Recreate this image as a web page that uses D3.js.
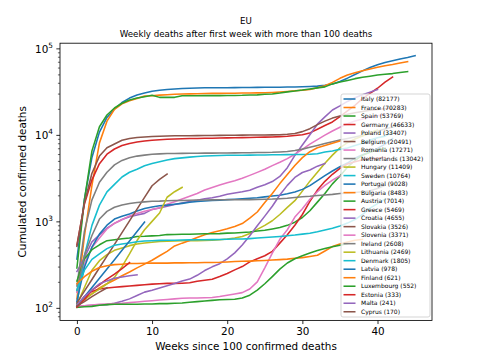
<!DOCTYPE html>
<html><head><meta charset="utf-8">
<script src="https://cdn.jsdelivr.net/npm/d3@7"></script>
<style>body{margin:0;background:#fff}svg{display:block}text{font-family:"DejaVu Sans",sans-serif;fill:#000}</style>
</head><body><svg id="c" width="480" height="360"></svg>
<script>
const countries = ["Italy","France","Spain","Germany","Poland","Belgium","Romania","Netherlands","Hungary","Sweden","Portugal","Bulgaria","Austria","Greece","Croatia","Slovakia","Slovenia","Ireland","Lithuania","Denmark","Latvia","Finland","Luxembourg","Estonia","Malta","Cyprus"];
const totals = [82177,70283,53769,46633,33407,20491,17271,13042,11409,10764,9028,8483,7014,5469,4655,3526,3371,2608,2469,1805,978,621,552,333,241,170];
const italy = [366,1809,5476,10779,15887,19899,23660,26644,28884,30560,31908,32785,33415,33899,34345,34634,34744,34967,35042,35097,35132,35166,35205,35234,35400,35445,35518,35587,35692,35801,35986,36246,36616,37479,38826,41394,45229,49823,54904,60078,64520,68799,71925,75332,78394,82177];
const france = [127,674,2606,8078,14393,19718,22856,24760,26380,28108,28367,28802,29145,29407,29639,29778,29893,30004,30155,30194,30265,30324,30406,30513,30602,30701,30910,31249,31700,32299,32825,33477,35018,37019,40439,45054,49232,52127,55155,57671,60549,63109,65037,67750,70283];
const spain = [289,1772,6528,12418,16972,20453,23190,25264,26621,27650,28752,27127,27136,27136,28322,28346,28385,28403,28420,28434,28445,28576,28646,28872,29011,29418,29747,30495,31411,32086,32929,33992,34910,35878,38833,40769,42619,44668,46252,47624,49260,50122,51078,52683,53769];
const germany = [533,1584,3022,4642,5976,6866,7549,7962,8247,8500,8685,8800,8882,8968,9020,9071,9090,9118,9148,9197,9232,9269,9298,9325,9368,9409,9457,9546,9634,9836,10056,10530,11597,12814,14112,16248,18919,21975,26275,30126,34574,40686,46633];
const poland = [263,380,579,698,833,948,1051,1128,1183,1237,1375,1430,1492,1571,1633,1700,1751,1829,1877,1956,2055,2126,2194,2291,2479,2650,2883,3308,4172,5783,7636,10045,13288,16147,19359,21630,24345,26812,29119,31189,33407];
const belgium = [513,1632,3600,5683,7094,7844,8656,9080,9312,9467,9595,9661,9713,9747,9771,9787,9805,9822,9845,9870,9895,9909,9923,9944,9961,9980,10002,10040,10158,10392,10899,11786,13137,14421,15618,16485,17286,17982,18599,19234,19700,20076,20491];
const romania = [151,328,498,641,816,952,1046,1156,1229,1305,1369,1437,1579,1687,1817,1952,2101,2304,2465,2634,2793,2954,3150,3402,3683,4004,4409,4824,5317,5973,6812,7827,8810,9920,11091,12254,13433,14450,15300,15976,16670,17271];
const netherlands = [179,772,1771,2833,3697,4491,5062,5440,5680,5830,5962,6031,6074,6094,6113,6132,6135,6149,6153,6162,6175,6193,6210,6226,6238,6255,6280,6336,6419,6591,6842,7177,7537,7926,8309,8700,9102,9469,9864,10365,11012,11661,12326,13042];
const hungary = [109,172,272,351,413,462,491,524,546,563,572,585,589,595,596,597,598,602,605,613,625,642,669,723,808,900,1017,1200,1449,1733,2237,2917,3706,4701,5831,7072,8111,8942,9690,10590,11409];
const sweden = [110,401,899,1540,2194,2679,3256,3698,3998,4395,4659,4891,5122,5310,5420,5526,5619,5697,5747,5776,5802,5813,5821,5835,5846,5865,5880,5895,5910,5929,5938,5969,6057,6321,6500,6798,7067,7514,8011,8727,9262,9667,10764];
const portugal = [119,295,504,714,903,1063,1144,1218,1316,1410,1465,1517,1540,1576,1614,1660,1697,1722,1740,1756,1784,1799,1822,1846,1875,1920,1963,2005,2080,2181,2343,2590,2959,3381,3824,4276,4724,5373,5902,6343,6972,7803,9028];
const bulgaria = [105,125,145,170,190,210,235,260,290,320,355,400,450,520,560,600,650,700,745,780,820,873,944,1089,1283,1649,2098,2732,3470,4432,5460,6389,7095,7515,8018,8483];
const austria = [204,368,470,536,598,614,629,643,668,672,680,688,703,705,709,711,713,718,719,721,731,733,745,755,772,790,817,847,899,978,1109,1325,1669,2099,2712,3352,4223,5053,5816,6302,6730,7014];
const greece = [105,135,155,165,170,173,176,179,182,185,188,190,192,192,193,195,203,209,214,230,250,275,300,340,370,400,450,560,700,900,1200,1700,2300,2900,3500,4100,4600,4900,5150,5300,5400,5469];
const croatia = [103,106,107,108,109,113,119,127,139,152,160,170,180,191,204,215,238,270,298,324,368,432,532,682,889,1150,1496,2018,2605,3218,3671,3920,4345,4655];
const slovakia = [114,156,213,291,397,543,742,1013,1384,1890,2580,3050,3526];
const slovenia = [104,106,108,110,111,112,113,115,117,119,121,123,125,127,129,130,130,131,132,135,140,145,150,165,200,290,430,620,800,1120,1400,1800,2200,2600,3000,3371];
const ireland = [158,406,687,1063,1303,1458,1543,1606,1650,1679,1706,1714,1735,1742,1746,1753,1763,1763,1772,1774,1777,1777,1781,1784,1792,1804,1810,1830,1852,1890,1922,1951,1990,2022,2050,2096,2122,2154,2200,2265,2397,2608];
const lithuania = [108,125,145,165,190,225,300,420,600,800,1000,1250,1900,2200,2469];
const denmark = [161,273,364,422,484,529,548,563,580,593,598,603,605,606,610,611,612,613,615,617,621,624,626,632,641,650,659,670,683,695,712,730,760,795,835,885,955,1050,1200,1420,1600,1805];
const latvia = [105,134,172,220,282,361,463,594,762,978];
const finland = [190,230,265,293,306,316,320,325,326,328,329,329,329,331,331,333,333,334,335,336,339,343,345,347,350,353,357,361,366,375,381,393,406,454,511,547,576,604,621];
const luxembourg = [101,103,104,107,109,110,110,110,110,111,111,112,112,113,114,116,118,120,122,124,125,126,130,140,160,190,230,280,330,370,400,430,460,485,510,530,552];
const estonia = [102,125,160,185,215,245,285,333];
const malta = [108,135,160,190,205,220,228,235,241];
const cyprus = [105,118,135,152,170];

const series = [italy,france,spain,germany,poland,belgium,romania,netherlands,hungary,sweden,portugal,bulgaria,austria,greece,croatia,slovakia,slovenia,ireland,lithuania,denmark,latvia,finland,luxembourg,estonia,malta,cyprus];
const xTicks = [0,10,20,30,40];
const yTicks = [100,1000,10000,100000];
const yExp = ["2","3","4","5"];
const titleLines = ["EU","Weekly deaths after first week with more than 100 deaths"];
const xLabel = "Weeks since 100 confirmed deaths";
const yLabel = "Cumulated confirmed deaths";
const palette = d3.schemeCategory10;

const L = 60, R = 432, T = 43.2, B = 320.4;
const svg = d3.select("#c");
const x = d3.scaleLinear().domain([-2.25, 47.25]).range([L, R]);
const y = d3.scaleLog().domain([Math.pow(10,1.855), Math.pow(10,5.0597)]).range([B, T]);

svg.append("defs").append("clipPath").attr("id","clip")
  .append("rect").attr("x",L).attr("y",T).attr("width",R-L).attr("height",B-T);

const line = d3.line().x((d,i)=>x(i)).y(d=>y(d));
const g = svg.append("g").attr("clip-path","url(#clip)");
series.forEach((s,k)=>{
  g.append("path").attr("d", line(s)).attr("fill","none")
   .attr("stroke", palette[k%10]).attr("stroke-width",1.56)
   .attr("stroke-linejoin","round").attr("stroke-linecap","square");
});

// axes
const xa = svg.append("g").attr("transform",`translate(0,${B})`)
  .call(d3.axisBottom(x).tickValues(xTicks).tickSize(3.65).tickPadding(3.4).tickFormat(d3.format("d")));
xa.select(".domain").remove();
xa.selectAll("line").attr("stroke","#000").attr("stroke-width",0.83);
xa.selectAll("text").attr("font-size","10.4px").attr("font-family","DejaVu Sans").attr("fill","#000");

const ya = svg.append("g").attr("transform",`translate(${L},0)`)
  .call(d3.axisLeft(y).tickValues(yTicks).tickSize(3.65).tickFormat(""));
ya.select(".domain").remove();
ya.selectAll("line").attr("stroke","#000").attr("stroke-width",0.83);
ya.selectAll(".tick").each(function(d,i){
  const t = d3.select(this).append("text").attr("x",-7.1).attr("y",3.7)
    .attr("text-anchor","end").attr("font-size","10.4px").attr("fill","#000");
  t.append("tspan").text("10");
  t.append("tspan").attr("font-size","7.3px").attr("dy","-4.6").text(yExp[i]);
});

const minors = [];
for (let e=1;e<=4;e++) for (let m=2;m<=9;m++){ const v=m*Math.pow(10,e); if (v>=y.domain()[0] && v<=y.domain()[1]) minors.push(v);}
const ym = svg.append("g").attr("transform",`translate(${L},0)`)
  .call(d3.axisLeft(y).tickValues(minors).tickSize(2.08).tickFormat(""));
ym.select(".domain").remove();
ym.selectAll("line").attr("stroke","#000").attr("stroke-width",0.6);

svg.append("rect").attr("x",L).attr("y",T).attr("width",R-L).attr("height",B-T)
  .attr("fill","none").attr("stroke","#000").attr("stroke-width",0.83);

// labels
svg.append("text").attr("x",(L+R)/2).attr("y",349.5).attr("text-anchor","middle")
  .attr("font-size","10.4px").text(xLabel);
svg.append("text").attr("transform",`translate(25.5,${(T+B)/2}) rotate(-90)`)
  .attr("text-anchor","middle").attr("font-size","10.4px").text(yLabel);
titleLines.forEach((t,i)=>{
  svg.append("text").attr("x",(L+R)/2).attr("y",23.5+13*i).attr("text-anchor","middle")
    .attr("font-size","8.68px").text(t);
});

// legend
const lg = svg.append("g");
lg.append("rect").attr("x",341).attr("y",94).attr("width",89).attr("height",223).attr("rx",2)
  .attr("fill","#fff").attr("fill-opacity",0.8).attr("stroke","#ccc").attr("stroke-width",0.83);
countries.forEach((c,i)=>{
  const yy = 99 + 8.51*i;
  lg.append("line").attr("x1",343.5).attr("x2",355.5).attr("y1",yy).attr("y2",yy)
    .attr("stroke",palette[i%10]).attr("stroke-width",1.56);
  lg.append("text").attr("x",361).attr("y",yy+2.1).attr("font-size","6px")
    .text(`${c} (${totals[i]})`);
});
</script></body></html>
